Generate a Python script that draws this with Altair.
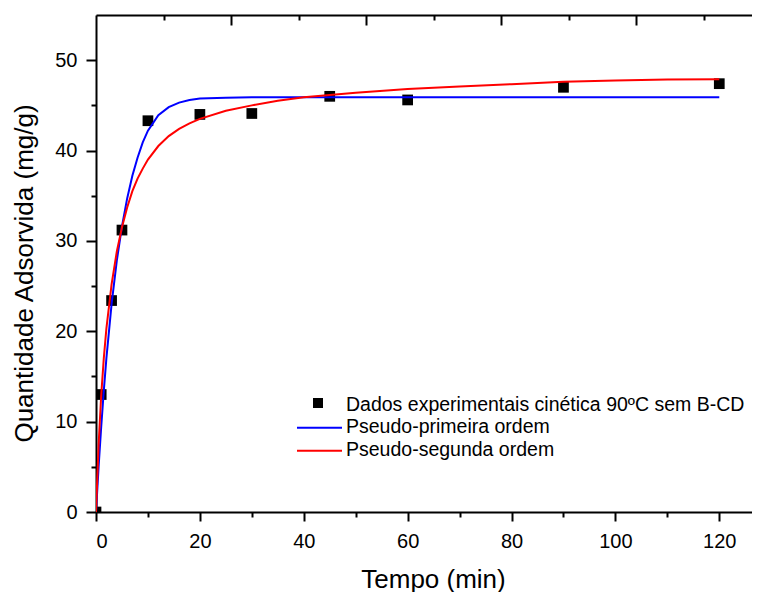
import altair as alt
import pandas as pd

# ---- data ----
t_exp = [0, 1, 3, 5, 10, 20, 30, 45, 60, 90, 120]
q_exp = [0.0, 13.0, 23.4, 31.2, 43.3, 44.0, 44.1, 46.0, 45.6, 47.0, 47.4]

t_fit = [0, 0.5, 1, 1.5, 2, 3, 4, 5, 6, 7, 8, 9, 10, 12, 14, 16, 18, 20, 25, 30,
         35, 40, 50, 60, 70, 80, 90, 100, 110, 120]
q_pfo = [0.0, 5.0, 9.4, 13.4, 17.0, 23.0, 27.8, 31.6, 34.7, 37.2, 39.2, 40.9, 42.2,
         43.9, 44.8, 45.3, 45.6, 45.75, 45.85, 45.9, 45.9, 45.9, 45.9, 45.9, 45.9,
         45.9, 45.9, 45.9, 45.9, 45.9]
q_pso = [0.0, 7.4, 12.9, 17.0, 20.3, 25.2, 28.8, 31.5, 33.7, 35.5, 36.9, 38.0, 39.0,
         40.5, 41.6, 42.4, 43.0, 43.5, 44.4, 45.0, 45.5, 45.9, 46.4, 46.8, 47.1,
         47.35, 47.6, 47.75, 47.85, 47.9]

series_names = ["Dados experimentais cinética 90ºC sem B-CD",
                "Pseudo-primeira ordem",
                "Pseudo-segunda ordem"]

x_major = [0, 20, 40, 60, 80, 100, 120]
x_minor = [10, 30, 50, 70, 90, 110]
y_major = [0, 10, 20, 30, 40, 50]
y_minor = [5, 15, 25, 35, 45]
top_major = [26, 52, 78, 104]
top_minor = [13, 39, 65, 91, 117]

x_domain = [0, 126.3]
y_domain = [0, 55]

W, H = 656, 497
FONT = "Liberation Sans"

df_exp = pd.DataFrame({"t": t_exp, "q": q_exp})
df_fit = pd.DataFrame({"t": t_fit, "pfo": q_pfo, "pso": q_pso})

xs = alt.Scale(domain=x_domain, nice=False, zero=False)
ys = alt.Scale(domain=y_domain, nice=False, zero=False)

common_ax = dict(domainColor="black", tickColor="black", labelColor="black",
                 titleColor="black", grid=False, labelFont=FONT, titleFont=FONT,
                 labelFontSize=20, titleFontSize=26, titleFontWeight="normal",
                 tickWidth=2, domainWidth=2)

ax_x_main = alt.Axis(orient="bottom", values=x_major, tickSize=9, labelPadding=26,
                     labelBaseline="alphabetic", title="Tempo (min)",
                     titleX=337, titleY=75, titleBaseline="alphabetic",
                     titleAlign="center", format="d", **common_ax)
ax_y_main = alt.Axis(orient="left", values=y_major, tickSize=10, labelPadding=9,
                     title="Quantidade Adsorvida (mg/g)", titleAngle=270,
                     titleX=-64, titleY=258, titleBaseline="alphabetic",
                     titleAlign="center", format="d", **common_ax)
ax_x_minor = alt.Axis(orient="bottom", values=x_minor, tickSize=5, labels=False,
                      domain=False, title=None, **common_ax)
ax_y_minor = alt.Axis(orient="left", values=y_minor, tickSize=5, labels=False,
                      domain=False, title=None, **common_ax)
ax_top_major = alt.Axis(orient="bottom", offset=-H, values=top_major, tickSize=10,
                        labels=False, domain=True, title=None, **common_ax)
ax_top_minor = alt.Axis(orient="bottom", offset=-H, values=top_minor, tickSize=5,
                        labels=False, domain=False, title=None, **common_ax)

points = alt.Chart(df_exp).mark_point(shape="square", filled=True, size=115,
                                      color="black", opacity=1, clip=True).encode(
    x=alt.X("t:Q", scale=xs, axis=ax_x_main),
    y=alt.Y("q:Q", scale=ys, axis=ax_y_main),
)

blue = alt.Chart(df_fit).mark_line(color="#0000ff", strokeWidth=2, clip=True).encode(
    x=alt.X("t:Q", scale=xs, axis=ax_x_minor),
    y=alt.Y("pfo:Q", scale=ys, axis=ax_y_minor),
)

red = alt.Chart(df_fit).mark_line(color="#ff0000", strokeWidth=2, clip=True).encode(
    x=alt.X("t:Q", scale=xs, axis=ax_top_major),
    y=alt.Y("pso:Q", scale=ys, axis=None),
)

ghost = alt.Chart(df_exp).mark_point(opacity=0).encode(
    x=alt.X("t:Q", scale=xs, axis=ax_top_minor),
    y=alt.Y("q:Q", scale=ys, axis=None),
)

# ---- legend (manual, inside the plot) ----
leg_sq = alt.Chart(pd.DataFrame({"label": [series_names[0]]})).mark_point(
    shape="square", filled=True, size=100, color="black", opacity=1).encode(
    x=alt.value(222), y=alt.value(388))
leg_blue = alt.Chart(pd.DataFrame({"label": [series_names[1]]})).mark_rule(
    color="#0000ff", strokeWidth=2).encode(
    x=alt.value(201), x2=alt.value(246), y=alt.value(412.7))
leg_red = alt.Chart(pd.DataFrame({"label": [series_names[2]]})).mark_rule(
    color="#ff0000", strokeWidth=2).encode(
    x=alt.value(201), x2=alt.value(246), y=alt.value(435.7))

leg_texts = []
for name, yb in zip(series_names, [395.5, 418.3, 441.0]):
    leg_texts.append(
        alt.Chart(pd.DataFrame({"label": [name]})).mark_text(
            font=FONT, fontSize=19.5, color="black", align="left",
            baseline="alphabetic").encode(
            text="label:N", x=alt.value(250), y=alt.value(yb))
    )

chart = alt.layer(points, blue, red, ghost, leg_sq, leg_blue, leg_red, *leg_texts).resolve_axis(
    x="independent", y="independent"
).resolve_scale(x="shared", y="shared").properties(
    width=W, height=H,
    autosize=alt.AutoSizeParams(type="none"),
    padding={"left": 88, "top": 7, "right": 0, "bottom": 82},
).configure_view(stroke=None).configure(background="white")

chart.save("out.html", embed_options={"renderer": "svg", "actions": False})
